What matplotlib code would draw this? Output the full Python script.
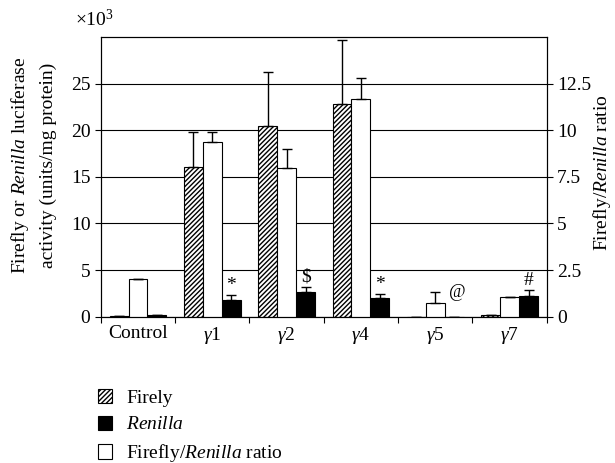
import numpy as np
import matplotlib.pyplot as plt
from matplotlib.patches import Patch

plt.rcParams['font.family'] = 'Liberation Serif'
plt.rcParams['mathtext.fontset'] = 'custom'
plt.rcParams['mathtext.rm'] = 'Liberation Serif'
plt.rcParams['mathtext.it'] = 'Liberation Serif:italic'
plt.rcParams['hatch.linewidth'] = 1.0

# groups
groups = ['Control', r'$\mathit{\gamma}$1', r'$\mathit{\gamma}$2', r'$\mathit{\gamma}$4',
          r'$\mathit{\gamma}$5', r'$\mathit{\gamma}$7']

# left axis, x10^3 units/mg protein
firefly = [0.1, 16.1, 20.5, 22.8, 0.0, 0.15]
firefly_err = [0.0, 3.7, 5.7, 6.9, 0.0, 0.0]
renilla = [0.15, 1.8, 2.6, 2.0, 0.0, 2.25]
renilla_err = [0.0, 0.5, 0.6, 0.4, 0.0, 0.65]
# right axis, ratio
ratio = [2.0, 9.35, 8.0, 11.65, 0.74, 1.05]
ratio_err = [0.0, 0.55, 1.0, 1.15, 0.6, 0.0]

marks = ['', '*', '$', '*', '@', '#']

x = np.arange(len(groups))
w = 0.255
fs = 14

fig = plt.figure(figsize=(6.15, 4.63), dpi=100)
ax = fig.add_axes([0.164, 0.316, 0.725, 0.604])
ax2 = ax.twinx()

ax.set_axisbelow(True)
ax.yaxis.grid(True, color='black', linewidth=0.8)

ekw = dict(elinewidth=1, capsize=3.5, capthick=1, ecolor='black')
ax.bar(x - w, firefly, w, color='white', edgecolor='black', hatch='///////', linewidth=0.8,
       yerr=[np.zeros(len(x)), firefly_err], error_kw=ekw, zorder=2)
ax.bar(x + w, renilla, w, color='black', edgecolor='black', linewidth=0.8,
       yerr=[np.zeros(len(x)), renilla_err], error_kw=ekw, zorder=2)
ax2.bar(x, ratio, w, color='white', edgecolor='black', linewidth=0.8,
        yerr=[np.zeros(len(x)), ratio_err], error_kw=ekw, zorder=2)

# significance marks
for i, m in enumerate(marks):
    if not m:
        continue
    if m == '@':
        ax2.text(x[i] + 0.5 * w + 0.06, ratio[i] + 0.1, m, fontsize=13, ha='left', va='bottom')
    else:
        top = renilla[i] + renilla_err[i]
        ax.text(x[i] + w, top + 0.1, m.replace('$', r'\$'), fontsize=fs, ha='center', va='bottom')

ax.set_xlim(-0.5, len(groups) - 0.5)
ax.set_ylim(0, 30)
ax2.set_ylim(0, 15)
ax.set_yticks([0, 5, 10, 15, 20, 25])
ax2.set_yticks([0, 2.5, 5, 7.5, 10, 12.5])
ax2.set_yticklabels(['0', '2.5', '5', '7.5', '10', '12.5'])

ax.set_xticks(x)
ax.set_xticklabels(groups, fontsize=fs)
ax.set_xticks(np.arange(-0.5, len(groups)), minor=True)
ax.tick_params(axis='x', which='major', length=0, pad=6)
ax.tick_params(axis='x', which='minor', length=4, width=0.8, direction='out')
ax.tick_params(axis='y', labelsize=fs, length=4, width=0.8, direction='out')
ax2.tick_params(axis='y', labelsize=fs, length=4, width=0.8, direction='out')

for a in (ax, ax2):
    for s in a.spines.values():
        s.set_linewidth(0.8)

ax.set_ylabel('Firefly or $\\mathit{Renilla}$ luciferase\nactivity (units/mg protein)',
              fontsize=fs, linespacing=1.65, labelpad=10)
ax.yaxis.label.set_y(0.54)
ax2.set_ylabel('Firefly/$\\mathit{Renilla}$ ratio', fontsize=fs, labelpad=0)
ax2.yaxis.label.set_y(0.515)
fig.text(0.122, 0.958, r'$\times$10$^3$', fontsize=fs, va='center')

handles = [Patch(facecolor='white', edgecolor='black', hatch='///////', linewidth=0.8),
           Patch(facecolor='black', edgecolor='black', linewidth=0.8),
           Patch(facecolor='white', edgecolor='black', linewidth=0.8)]
labels = ['Firely', '$\\mathit{Renilla}$', 'Firefly/$\\mathit{Renilla}$ ratio']
fig.legend(handles, labels, loc='upper left', bbox_to_anchor=(0.159, 0.16), frameon=False,
           fontsize=fs, handlelength=0.75, handleheight=0.75, handletextpad=0.7,
           labelspacing=0.45, borderaxespad=0, borderpad=0)

fig.savefig('out.png', dpi=100)
